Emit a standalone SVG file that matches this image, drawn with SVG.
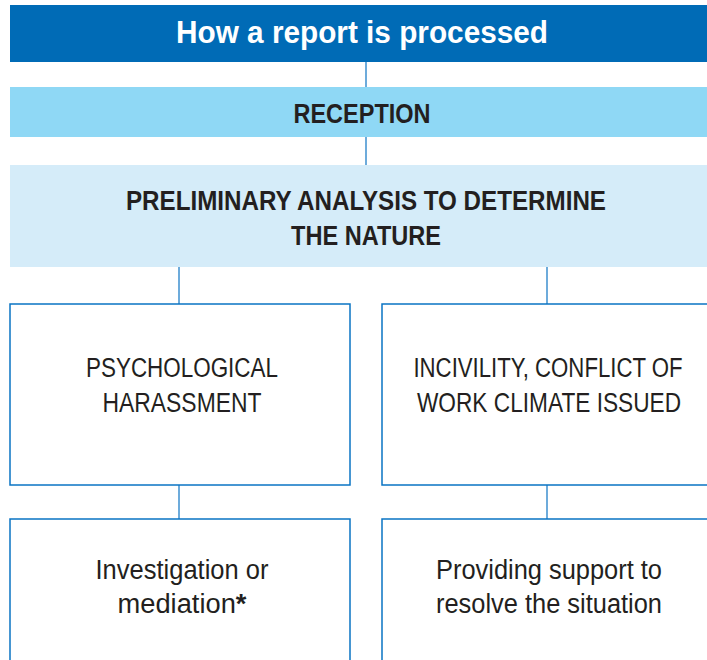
<svg xmlns="http://www.w3.org/2000/svg" width="707" height="660" viewBox="0 0 707 660">
<style>
text{font-family:"Liberation Sans Narrow","Liberation Sans",Arial,sans-serif;fill:#231f20;text-anchor:middle}
.b{font-weight:bold}
.t{fill:#ffffff;font-weight:bold;font-size:32px}
.h{font-size:27px;font-weight:bold}
.n{font-size:27px}
.box{fill:#ffffff;stroke:#0a74c4;stroke-width:1.5}
.c{stroke:#3d8fcf;stroke-width:1.5;fill:none}
</style>
<rect width="707" height="660" fill="#ffffff"/>
<g id="connectors">
<line class="c" x1="366" y1="62" x2="366" y2="87"/>
<line class="c" x1="366" y1="137" x2="366" y2="165"/>
<line class="c" x1="179" y1="267" x2="179" y2="304"/>
<line class="c" x1="547" y1="267" x2="547" y2="304"/>
<line class="c" x1="179" y1="485" x2="179" y2="519"/>
<line class="c" x1="547" y1="485" x2="547" y2="519"/>
</g>
<g id="title">
<rect x="10" y="5" width="697" height="57" fill="#006bb6"/>
<text class="t" x="362" y="43" textLength="372" lengthAdjust="spacingAndGlyphs">How a report is processed</text>
</g>
<g id="reception">
<rect x="10" y="87" width="697" height="50" fill="#8fd8f5"/>
<text class="h" x="362" y="123" textLength="137" lengthAdjust="spacingAndGlyphs">RECEPTION</text>
</g>
<g id="preliminary">
<rect x="10" y="165" width="697" height="102" fill="#d5ecf9"/>
<text class="h" x="366" y="210" textLength="480" lengthAdjust="spacingAndGlyphs">PRELIMINARY ANALYSIS TO DETERMINE</text>
<text class="h" x="366" y="245" textLength="150" lengthAdjust="spacingAndGlyphs">THE NATURE</text>
</g>
<g id="harassment">
<rect class="box" x="10" y="304" width="340" height="181"/>
<text class="n" x="182" y="377" textLength="192" lengthAdjust="spacingAndGlyphs">PSYCHOLOGICAL</text>
<text class="n" x="182" y="412" textLength="159" lengthAdjust="spacingAndGlyphs">HARASSMENT</text>
</g>
<g id="incivility">
<path class="box" d="M707 304 H382 V485 H707"/>
<text class="n" transform="translate(548 377) scale(0.822 1)">INCIVILITY, CONFLICT OF</text>
<text class="n" transform="translate(549 412) scale(0.84 1)">WORK CLIMATE ISSUED</text>
</g>
<g id="investigation">
<path class="box" d="M10 660 V519 H350 V660"/>
<text class="n" x="182" y="579" textLength="173" lengthAdjust="spacingAndGlyphs">Investigation or</text>
<text class="n" x="182" y="613" textLength="129" lengthAdjust="spacingAndGlyphs">mediation<tspan class="b">*</tspan></text>
</g>
<g id="support">
<path class="box" d="M382 660 V519 H707"/>
<text class="n" x="549" y="579" textLength="226" lengthAdjust="spacingAndGlyphs">Providing support to</text>
<text class="n" x="549" y="613" textLength="226" lengthAdjust="spacingAndGlyphs">resolve the situation</text>
</g>
</svg>
